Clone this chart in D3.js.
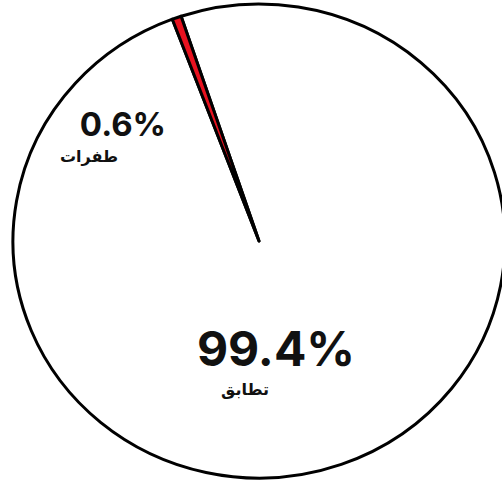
<!DOCTYPE html>
<html>
<head>
<meta charset="utf-8">
<script src="https://cdn.jsdelivr.net/npm/d3@7"></script>
<style>
  html, body { margin: 0; padding: 0; background: #fff; }
  svg { display: block; }
</style>
</head>
<body>
<div id="chart"></div>
<script>
// data
var categories = ["طفرات", "تطابق"];
var values = [0.6, 99.4];
var colors = ["#e8121f", "#ffffff"];

var width = 502, height = 483;
var cx = 259, cy = 241, ry = 237, rx = 246;

var svg = d3.select("#chart").append("svg")
  .attr("width", width)
  .attr("height", height);

var pie = d3.pie()
  .sort(null)
  .startAngle(-0.36)
  .endAngle(-0.36 + 2 * Math.PI);

var arc = d3.arc().innerRadius(0).outerRadius(ry);

var slices = pie(values);

var g = svg.append("g")
  .attr("transform", "translate(" + cx + "," + cy + ") scale(" + (rx / ry) + ",1)");

// big slice first, small wedge on top
g.selectAll("path")
  .data(slices.slice().reverse())
  .enter()
  .append("path")
  .attr("d", arc)
  .attr("fill", function(d) { return colors[d.index]; })
  .attr("stroke", "#000")
  .attr("stroke-width", 3)
  .attr("vector-effect", "non-scaling-stroke")
  .attr("stroke-linejoin", "round");

// label placement (pixel anchors for each category)
var labelPos = [
  { x: 123, y: 136, size: 33, sub: { x: 89, y: 162, size: 16 } },
  { x: 276, y: 366, size: 48, sub: { x: 245, y: 395, size: 16 } }
];

var labels = svg.selectAll("g.lbl")
  .data(slices)
  .enter()
  .append("g")
  .attr("class", "lbl");

labels.append("text")
  .attr("x", function(d) { return labelPos[d.index].x; })
  .attr("y", function(d) { return labelPos[d.index].y; })
  .attr("text-anchor", "middle")
  .style("font-family", "Inter, 'Noto Sans', sans-serif")
  .style("font-weight", 700)
  .style("font-size", function(d) { return labelPos[d.index].size + "px"; })
  .attr("fill", "#111")
  .text(function(d) { return d3.format(".1f")(d.data) + "%"; });

labels.append("text")
  .attr("x", function(d) { return labelPos[d.index].sub.x; })
  .attr("y", function(d) { return labelPos[d.index].sub.y; })
  .attr("text-anchor", "middle")
  .attr("direction", "rtl")
  .style("font-family", "'DejaVu Sans', 'Noto Sans', sans-serif")
  .style("font-weight", 700)
  .style("font-size", function(d) { return labelPos[d.index].sub.size + "px"; })
  .attr("fill", "#111")
  .text(function(d) { return categories[d.index]; });
</script>
</body>
</html>
